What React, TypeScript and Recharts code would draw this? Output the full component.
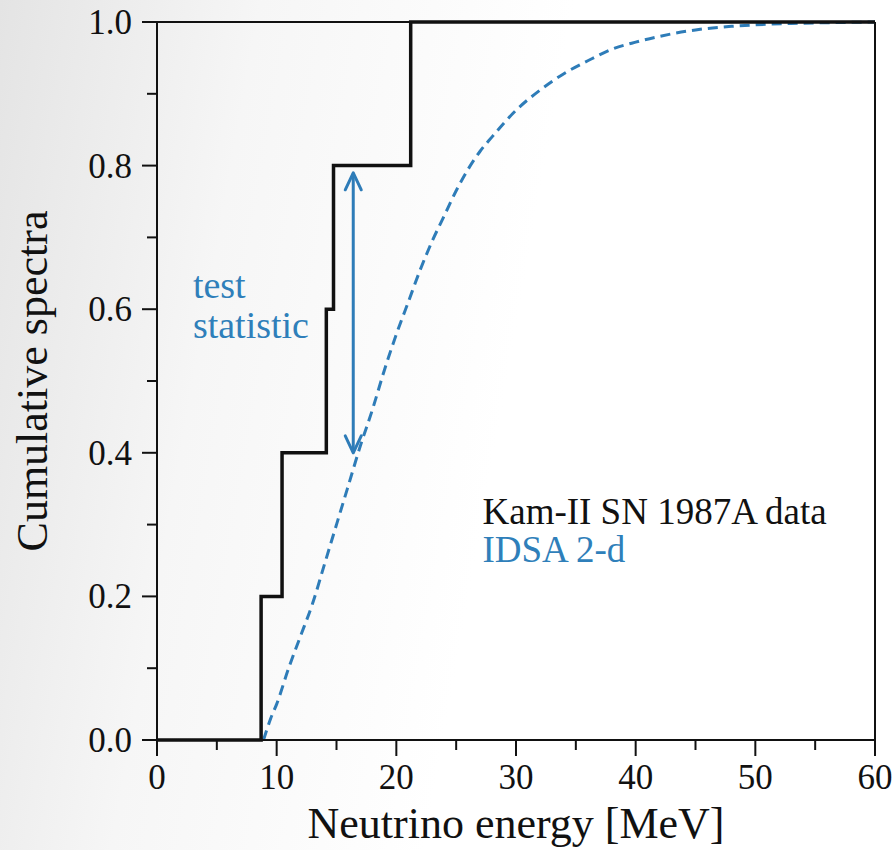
import React from 'react';
import { ComposedChart, Line, XAxis, YAxis, ReferenceLine, ReferenceDot } from 'recharts';

// Kam-II SN 1987A cumulative data (step function)
const stepEnergy = [0, 8.7, 10.45, 14.15, 14.75, 21.2, 60];
const stepCdf = [0, 0.2, 0.4, 0.6, 0.8, 1.0, 1.0];

// IDSA 2-d model cumulative spectrum
const modelEnergy = [8.9, 9.5, 10, 11, 12, 13, 14, 15, 16, 17, 18, 19, 20, 21, 22, 23, 24, 25, 26, 27, 28, 30, 32, 34, 36, 38, 40, 42, 45, 48, 50, 53, 56, 60];
const modelCdf = [0, 0.03, 0.05, 0.1, 0.145, 0.19, 0.245, 0.3, 0.355, 0.41, 0.46, 0.515, 0.565, 0.61, 0.655, 0.695, 0.73, 0.765, 0.795, 0.82, 0.84, 0.877, 0.905, 0.928, 0.946, 0.962, 0.972, 0.98, 0.989, 0.994, 0.996, 0.998, 0.999, 1.0];

// test statistic arrow
const arrowEnergy = 16.4;
const arrowTop = 0.79;
const arrowBottom = 0.4;

const xTicks = [0, 5, 10, 15, 20, 25, 30, 35, 40, 45, 50, 55, 60];
const yTicks = [0, 0.1, 0.2, 0.3, 0.4, 0.5, 0.6, 0.7, 0.8, 0.9, 1.0];

const xTitle = 'Neutrino energy [MeV]';
const yTitle = 'Cumulative spectra';

const stepData = stepEnergy.map((x, i) => ({ x, y: stepCdf[i] }));
const modelData = modelEnergy.map((x, i) => ({ x, y: modelCdf[i] }));

const W = 895;
const H = 850;
const BLUE = '#2e7cb8';
const BLUE_TEXT = '#2f7fba';
const INK = '#111';
const FONT = '"Liberation Serif", "Times New Roman", serif';

const XTick = (props: any) => {
  const { x, y, payload } = props;
  const v = payload.value as number;
  const major = Math.round(v) % 10 === 0;
  return (
    <g>
      <line x1={x} y1={y} x2={x} y2={y + (major ? 16 : 10)} stroke={INK} strokeWidth={2} />
      {major && (
        <text x={x} y={y + 49} textAnchor="middle" fontSize={35} fontFamily={FONT} fill={INK}>
          {v}
        </text>
      )}
    </g>
  );
};

const YTick = (props: any) => {
  const { x, y, payload } = props;
  const v = payload.value as number;
  const major = Math.round(v * 10) % 2 === 0;
  return (
    <g>
      <line x1={x} y1={y} x2={x - (major ? 15 : 10)} y2={y} stroke={INK} strokeWidth={2} />
      {major && (
        <text x={x - 25} y={y} dy="0.34em" textAnchor="end" fontSize={35} fontFamily={FONT} fill={INK}>
          {v.toFixed(1)}
        </text>
      )}
    </g>
  );
};

const ArrowShape = (props: any) => {
  const { x1, y1, x2, y2 } = props;
  const top = Math.min(y1, y2);
  const bot = Math.max(y1, y2);
  const x = x1;
  return (
    <g stroke={BLUE} strokeWidth={3} fill="none" strokeLinecap="round" strokeLinejoin="round">
      <line x1={x} y1={top + 1} x2={x2} y2={bot - 1} />
      <polyline points={`${x - 8},${top + 17} ${x},${top} ${x + 8},${top + 17}`} />
      <polyline points={`${x - 8},${bot - 17} ${x},${bot} ${x + 8},${bot - 17}`} />
    </g>
  );
};

const makeText = (text: string, color: string, size: number) => (props: any) => (
  <text x={props.cx} y={props.cy} fontSize={size} fontFamily={FONT} fill={color}>
    {text}
  </text>
);

const annotations = [
  { x: 3.0, y: 0.6156, text: 'test', color: BLUE_TEXT },
  { x: 3.0, y: 0.56, text: 'statistic', color: BLUE_TEXT },
  { x: 27.2, y: 0.3008, text: 'Kam-II SN 1987A data', color: INK },
  { x: 27.2, y: 0.2479, text: 'IDSA 2-d', color: BLUE_TEXT },
];

export default function App() {
  return (
    <div
      style={{
        position: 'absolute',
        left: 0,
        top: 0,
        width: W,
        height: H,
        background: 'linear-gradient(100deg, #e4e4e4 0%, #f6f6f6 25%, #ffffff 55%, #ffffff 100%)',
      }}
    >
      <ComposedChart width={W} height={H} margin={{ top: 22, right: 20, left: 0, bottom: 0 }}>
        <XAxis
          dataKey="x"
          type="number"
          domain={[0, 60]}
          ticks={xTicks}
          interval={0}
          height={110}
          tickSize={0}
          tickMargin={0}
          tickLine={false}
          tick={<XTick />}
          axisLine={{ stroke: INK, strokeWidth: 2 }}
          label={() => (
            <text x={516} y={838} textAnchor="middle" fontSize={44} fontFamily={FONT} fill={INK}>
              {xTitle}
            </text>
          )}
        />
        <YAxis
          type="number"
          domain={[0, 1]}
          ticks={yTicks}
          interval={0}
          width={157}
          tickSize={0}
          tickMargin={0}
          tickLine={false}
          tick={<YTick />}
          axisLine={{ stroke: INK, strokeWidth: 2 }}
          label={() => (
            <text
              x={47}
              y={381}
              textAnchor="middle"
              fontSize={44}
              fontFamily={FONT}
              fill={INK}
              transform="rotate(-90, 47, 381)"
            >
              {yTitle}
            </text>
          )}
        />
        <ReferenceLine y={1} stroke={INK} strokeWidth={2} ifOverflow="visible" />
        <ReferenceLine x={60} stroke={INK} strokeWidth={2} ifOverflow="visible" />
        <Line
          data={modelData}
          dataKey="y"
          type="monotone"
          stroke={BLUE}
          strokeWidth={3}
          strokeDasharray="10 6"
          dot={false}
          activeDot={false}
          isAnimationActive={false}
        />
        <Line
          data={stepData}
          dataKey="y"
          type="stepAfter"
          stroke={INK}
          strokeWidth={3.5}
          dot={false}
          activeDot={false}
          isAnimationActive={false}
        />
        <ReferenceLine
          segment={[
            { x: arrowEnergy, y: arrowTop },
            { x: arrowEnergy, y: arrowBottom },
          ]}
          ifOverflow="visible"
          shape={<ArrowShape />}
        />
        {annotations.map((a, i) => (
          <ReferenceDot
            key={i}
            x={a.x}
            y={a.y}
            r={0}
            ifOverflow="visible"
            shape={makeText(a.text, a.color, i < 2 ? 38 : 37)}
          />
        ))}
      </ComposedChart>
    </div>
  );
}
